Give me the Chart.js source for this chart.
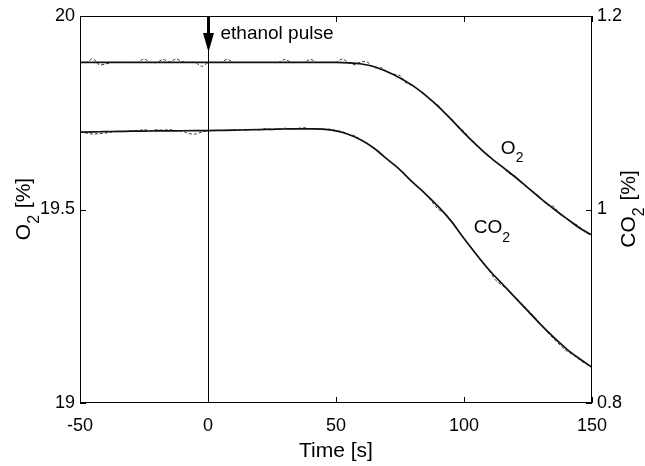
<!DOCTYPE html>
<html>
<head>
<meta charset="utf-8">
<script src="https://cdn.jsdelivr.net/npm/chart.js@4.4.1/dist/chart.umd.min.js"></script>
<style>
  html, body { margin: 0; padding: 0; background: #fff; }
  #wrap { width: 645px; height: 466px; }
</style>
</head>
<body>
<div id="wrap"><canvas id="chart" width="645" height="466"></canvas></div>
<script>
// model fit (solid lines), every 5 s
const fitTime = [-50,-45,-40,-35,-30,-25,-20,-15,-10,-5,0,5,10,15,20,25,30,35,40,45,50,
  55,60,65,70,75,80,85,90,95,100,105,110,115,120,125,130,135,140,145,150];
const fitO2 = [19.88,19.88,19.88,19.88,19.88,19.88,19.88,19.88,19.88,19.88,19.88,19.88,19.88,19.88,19.88,19.88,19.88,19.88,19.88,19.88,19.88,
  19.879,19.876,19.869,19.856,19.84,19.82,19.795,19.766,19.733,19.698,19.666,19.636,19.61,19.584,19.556,19.528,19.502,19.477,19.453,19.434];
const fitCO2 = [1.080,1.0802,1.0805,1.0807,1.081,1.0811,1.0812,1.0813,1.0814,1.0815,1.0816,1.0818,1.082,1.0823,1.0826,1.0829,1.0832,1.0834,1.0834,1.0830,1.0812,
  1.0775,1.0715,1.063,1.052,1.041,1.028,1.016,1.003,0.988,0.970,0.953,0.937,0.923,0.909,0.895,0.881,0.868,0.856,0.846,0.837];

// measured signals (dashed lines), every 2.5 s
const measTime = [-50,-47.5,-45,-42.5,-40,-37.5,-35,-32.5,-30,-27.5,-25,-22.5,-20,-17.5,-15,-12.5,-10,-7.5,-5,-2.5,
  0,2.5,5,7.5,10,12.5,15,17.5,20,22.5,25,27.5,30,32.5,35,37.5,40,42.5,45,47.5,
  50,52.5,55,57.5,60,62.5,65,67.5,70,72.5,75,77.5,80,82.5,85,87.5,90,92.5,95,97.5,
  100,102.5,105,107.5,110,112.5,115,117.5,120,122.5,125,127.5,130,132.5,135,137.5,140,142.5,145,147.5,150];
const measO2 = [19.880,19.880,19.890,19.874,19.876,19.880,19.880,19.880,19.880,19.880,19.889,19.880,19.880,19.888,19.881,19.889,19.882,19.880,19.880,19.870,
  19.879,19.880,19.880,19.888,19.880,19.880,19.880,19.880,19.880,19.880,19.880,19.880,19.888,19.880,19.880,19.880,19.888,19.880,19.880,19.880,
  19.880,19.889,19.879,19.874,19.882,19.880,19.866,19.867,19.856,19.850,19.846,19.826,19.820,19.808,19.797,19.779,19.769,19.748,19.735,19.713,
  19.702,19.680,19.666,19.650,19.638,19.622,19.612,19.594,19.586,19.570,19.556,19.544,19.530,19.512,19.508,19.487,19.478,19.466,19.456,19.440,19.434];
const measCO2 = [1.0800,1.0790,1.0780,1.0785,1.0790,1.0800,1.0805,1.0805,1.0810,1.0815,1.0825,1.0815,1.0825,1.0820,1.0825,1.0815,1.0810,1.0785,1.0780,1.0800,
  1.0815,1.0815,1.0818,1.0820,1.0820,1.0822,1.0825,1.0830,1.0825,1.0835,1.0828,1.0832,1.0840,1.0832,1.0838,1.0845,1.0836,1.0838,1.0825,1.0830,
  1.0815,1.0805,1.0775,1.0760,1.0715,1.0680,1.0630,1.0580,1.0520,1.0470,1.0410,1.0340,1.0280,1.0220,1.0160,1.0080,1.0000,0.9960,0.9880,0.9790,
  0.9700,0.9615,0.9525,0.9440,0.9360,0.9265,0.9215,0.9160,0.9095,0.9030,0.8960,0.8890,0.8815,0.8735,0.8665,0.8600,0.8540,0.8500,0.8450,0.8405,0.8370];

const xTicks = [-50, 0, 50, 100, 150];
const o2Ticks = [19, 19.5, 20];
const co2Ticks = [0.8, 1, 1.2];
const pulseTime = 0;
const pulseLabel = 'ethanol pulse';

const FONT = '"Liberation Sans", Arial, sans-serif';

function pts(xs, ys) { return xs.map((x, i) => ({ x: x, y: ys[i] })); }

// draw a string made of [text, isSubscript] parts, starting at x on baseline y
function drawParts(ctx, parts, x, y, size, align) {
  const sub = Math.round(size * 0.76);
  let total = 0;
  parts.forEach(p => {
    ctx.font = (p[1] ? sub : size) + 'px ' + FONT;
    total += ctx.measureText(p[0]).width;
  });
  let cx = align === 'center' ? x - total / 2 : x;
  ctx.textAlign = 'left';
  ctx.textBaseline = 'alphabetic';
  parts.forEach(p => {
    ctx.font = (p[1] ? sub : size) + 'px ' + FONT;
    ctx.fillText(p[0], cx, p[1] ? y + size * 0.45 : y);
    cx += ctx.measureText(p[0]).width + (p[1] ? 1 : 0);
  });
}

const decor = {
  id: 'decor',
  afterDatasetsDraw(chart) {
    const ctx = chart.ctx;
    const a = chart.chartArea;
    const xs = chart.scales.x, ys = chart.scales.y, ys1 = chart.scales.y1;
    ctx.save();
    ctx.strokeStyle = '#000';
    ctx.fillStyle = '#000';
    ctx.lineWidth = 1;
    // box
    ctx.strokeRect(a.left + 0.5, a.top + 0.5, a.right - a.left - 1, a.bottom - a.top - 1);
    // inward ticks
    ctx.beginPath();
    xTicks.forEach(t => {
      const px = Math.round(xs.getPixelForValue(t)) + 0.5;
      ctx.moveTo(px, a.bottom); ctx.lineTo(px, a.bottom - 6);
      ctx.moveTo(px, a.top); ctx.lineTo(px, a.top + 6);
    });
    o2Ticks.forEach(v => {
      const py = Math.round(ys.getPixelForValue(v)) + 0.5;
      ctx.moveTo(a.left, py); ctx.lineTo(a.left + 6, py);
    });
    co2Ticks.forEach(v => {
      const py = Math.round(ys1.getPixelForValue(v)) + 0.5;
      ctx.moveTo(a.right, py); ctx.lineTo(a.right - 6, py);
    });
    ctx.stroke();
    // pulse marker
    const x0 = Math.round(xs.getPixelForValue(pulseTime)) + 0.5;
    ctx.beginPath();
    ctx.moveTo(x0, a.top); ctx.lineTo(x0, a.bottom);
    ctx.stroke();
    ctx.lineWidth = 3;
    ctx.beginPath();
    ctx.moveTo(x0, a.top); ctx.lineTo(x0, a.top + 20);
    ctx.stroke();
    ctx.beginPath();
    ctx.moveTo(x0 - 5.5, a.top + 17);
    ctx.lineTo(x0 + 5.5, a.top + 17);
    ctx.lineTo(x0, a.top + 36);
    ctx.closePath();
    ctx.fill();
    ctx.font = '19px ' + FONT;
    ctx.textAlign = 'left';
    ctx.textBaseline = 'alphabetic';
    ctx.fillText(pulseLabel, x0 + 12, a.top + 23);
    // curve labels
    drawParts(ctx, [['O', false], ['2', true]], xs.getPixelForValue(114.4), ys.getPixelForValue(19.644), 19, 'left');
    drawParts(ctx, [['CO', false], ['2', true]], xs.getPixelForValue(103.8), ys1.getPixelForValue(0.9756), 19, 'left');
    // axis titles (rotated)
    const midY = (a.top + a.bottom) / 2;
    ctx.save();
    ctx.translate(30, midY);
    ctx.rotate(-Math.PI / 2);
    drawParts(ctx, [['O', false], ['2', true], [' [%]', false]], 0, 0, 21, 'center');
    ctx.restore();
    ctx.save();
    ctx.translate(635, midY);
    ctx.rotate(-Math.PI / 2);
    drawParts(ctx, [['CO', false], ['2', true], [' [%]', false]], 0, 0, 21, 'center');
    ctx.restore();
    ctx.restore();
  }
};

const tickFont = { family: FONT, size: 18 };

new Chart(document.getElementById('chart'), {
  type: 'line',
  data: {
    datasets: [
      { label: 'O2 fit', data: pts(fitTime, fitO2), yAxisID: 'y',
        borderColor: '#111', borderWidth: 1.7, pointRadius: 0, cubicInterpolationMode: 'monotone' },
      { label: 'CO2 fit', data: pts(fitTime, fitCO2), yAxisID: 'y1',
        borderColor: '#111', borderWidth: 1.7, pointRadius: 0, cubicInterpolationMode: 'monotone' },
      { label: 'O2 measured', data: pts(measTime, measO2), yAxisID: 'y',
        borderColor: '#333', borderWidth: 1, borderDash: [3, 2], pointRadius: 0, tension: 0.3 },
      { label: 'CO2 measured', data: pts(measTime, measCO2), yAxisID: 'y1',
        borderColor: '#333', borderWidth: 1, borderDash: [3, 2], pointRadius: 0, tension: 0.3 }
    ]
  },
  options: {
    responsive: false,
    animation: false,
    layout: { padding: { top: 16, left: 0, right: 0, bottom: 0 } },
    plugins: { legend: { display: false }, tooltip: { enabled: false } },
    scales: {
      x: {
        type: 'linear', min: -50, max: 150,
        afterBuildTicks: s => { s.ticks = xTicks.map(v => ({ value: v })); },
        grid: { display: false, drawTicks: false },
        border: { display: false },
        ticks: { color: '#000', font: tickFont, padding: 12, maxRotation: 0, callback: v => String(v) },
        title: { display: true, text: 'Time [s]', color: '#000', font: { family: FONT, size: 21 }, padding: { top: 4, bottom: 2 } },
        afterFit: s => { s.height = 466 - 403; }
      },
      y: {
        position: 'left', min: 19, max: 20,
        afterBuildTicks: s => { s.ticks = o2Ticks.map(v => ({ value: v })); },
        grid: { display: false, drawTicks: false },
        border: { display: false },
        ticks: { color: '#000', font: tickFont, padding: 5, callback: v => String(v) },
        afterFit: s => { s.width = 80; }
      },
      y1: {
        position: 'right', min: 0.8, max: 1.2,
        afterBuildTicks: s => { s.ticks = co2Ticks.map(v => ({ value: v })); },
        grid: { display: false, drawTicks: false },
        border: { display: false },
        ticks: { color: '#000', font: tickFont, padding: 5, callback: v => String(v) },
        afterFit: s => { s.width = 645 - 592; }
      }
    }
  },
  plugins: [decor]
});
</script>
</body>
</html>
